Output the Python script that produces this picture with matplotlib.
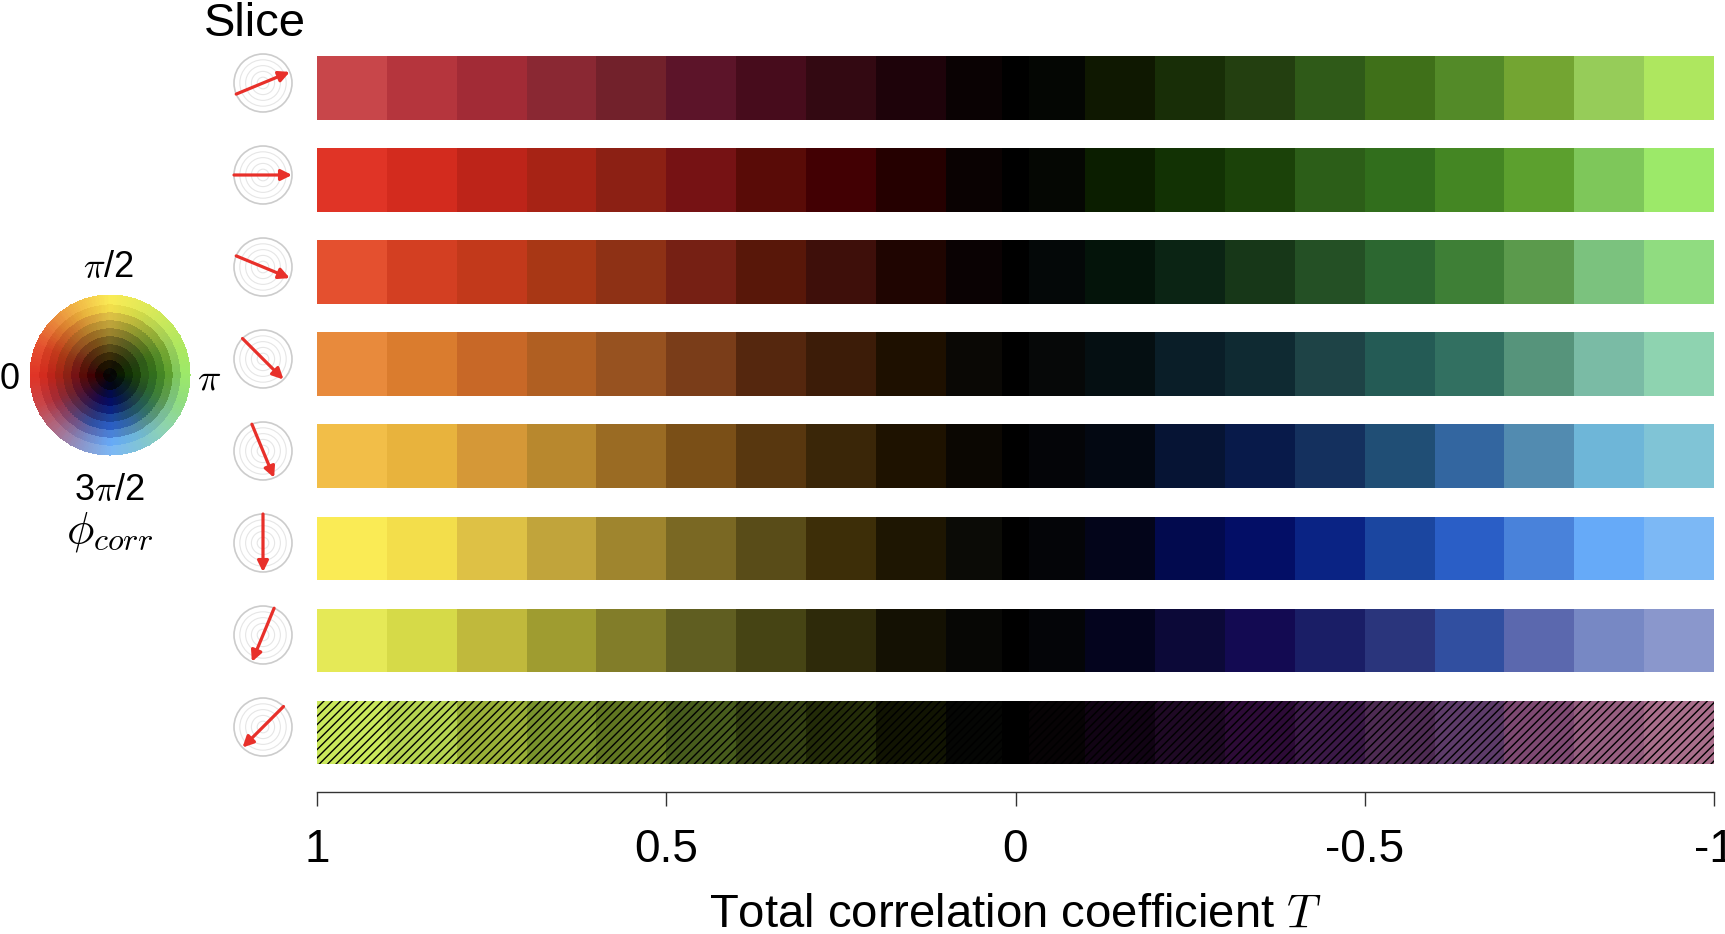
import numpy as np
import matplotlib
matplotlib.use('Agg')
import matplotlib.pyplot as plt
from matplotlib.colors import LinearSegmentedColormap
from matplotlib.patches import Circle

plt.rcParams['font.family'] = ['Liberation Sans', 'DejaVu Sans']
plt.rcParams['mathtext.fontset'] = 'cm'
plt.rcParams['hatch.linewidth'] = 1.0

W, H = 1725, 934

# direction of each slice (deg, counter-clockwise from +x)
slice_angles = [22.5, 0, -22.5, -45, -67.5, -90, -112.5, -135]
hatched = [False, False, False, False, False, False, False, True]

# segment edges of T, from 1 down to -1
t_edges = [1.0, 0.9, 0.8, 0.7, 0.6, 0.5, 0.4, 0.3, 0.2, 0.1, 0.0,
           -0.1, -0.2, -0.3, -0.4, -0.5, -0.6, -0.7, -0.8, -0.9, -1.0]
zero_band = [0.02, -0.02]

# colour of every segment (left = T 1..0, right = T 0..-1)
seg_colors = [
    ['#C8464A', '#B5353D', '#A22B36', '#8A2833', '#72212B', '#5C1429', '#470C1C', '#330912', '#1E030A', '#0A0203',
     '#040603', '#0F1801', '#182E07', '#233F10', '#2F5A18', '#3F7019', '#538A28', '#73A532', '#96CC59', '#AEE75F'],
    ['#E03426', '#D32B1E', '#BD2419', '#A72315', '#8C2014', '#761214', '#590B07', '#420003', '#250000', '#0A0202',
     '#050703', '#0B1E00', '#123204', '#1B4209', '#2C5E18', '#316E1C', '#448623', '#5CA02E', '#7EC75A', '#9CE969'],
    ['#E4502F', '#D33F22', '#C2391B', '#A83715', '#8E3115', '#762014', '#581709', '#3E0F0A', '#1F0501', '#0A0203',
     '#040808', '#04140A', '#0B2414', '#173718', '#245025', '#2C6730', '#3E7F36', '#5B9A4C', '#7BC27E', '#90DC80'],
    ['#E88A3C', '#DA7C2E', '#C86827', '#B05F22', '#975220', '#7A3D19', '#55270E', '#3C1C08', '#1E1000', '#0A0805',
     '#060808', '#050F12', '#0A1E28', '#0F2A32', '#1E4346', '#245B55', '#327061', '#56947B', '#7ABBA5', '#8ED3B0'],
    ['#F2BE48', '#E8B33D', '#D59837', '#B8882E', '#9A6B23', '#7A4F17', '#58370F', '#3A2608', '#1E1200', '#0B0702',
     '#040508', '#030812', '#061434', '#081A4A', '#14305E', '#204E75', '#3366A0', '#528BB0', '#6EB6D8', '#80C4D6'],
    ['#FAEB55', '#F3DE4B', '#DEC145', '#C1A43B', '#9F852E', '#7A6823', '#594C18', '#3D2E08', '#1E1602', '#0B0B06',
     '#040508', '#03051A', '#020A4E', '#030E66', '#0A2384', '#1B46A0', '#2A5EC6', '#4982DA', '#66AAF8', '#7CB8F5'],
    ['#E5E957', '#D6DA48', '#C0B93C', '#9F9C30', '#827D29', '#605E21', '#464414', '#2E2A0A', '#141103', '#070705',
     '#040508', '#04041E', '#0C0938', '#130A52', '#1A1E66', '#2A357C', '#314FA0', '#5B68AE', '#7788C4', '#8A97CC'],
    ['#CAE85B', '#B6D350', '#99AF37', '#79932C', '#607621', '#475C1C', '#344112', '#232C08', '#111402', '#050604',
     '#070305', '#110314', '#1F0925', '#2D0B37', '#3B1947', '#4E2B53', '#5D3B69', '#7E4972', '#965E80', '#A96E8B'],
]

tick_vals = [1, 0.5, 0, -0.5, -1]
tick_text = ['1', '0.5', '0', '-0.5', '-1']

fig = plt.figure(figsize=(W / 100, H / 100), dpi=100)

# ---- bars
ax = fig.add_axes([317 / W, 1 - 792 / H, 1397 / W, 750 / H])
bar_h = 0.685
for i, cols in enumerate(seg_colors):
    for k, c in enumerate(cols):
        left = t_edges[k]
        width = t_edges[k + 1] - t_edges[k]
        if hatched[i]:
            ax.barh(i, width, left=left, height=bar_h, color=c, edgecolor='black',
                    hatch='////', linewidth=0)
        else:
            ax.barh(i, width, left=left, height=bar_h, color=c, linewidth=0)
    ax.barh(i, zero_band[1] - zero_band[0], left=zero_band[0], height=bar_h,
            color='black', linewidth=0)

ax.set_xlim(1, -1)
ax.set_ylim(7.652, -0.5)
ax.set_yticks([])
ax.set_xticks(tick_vals, tick_text)
ax.tick_params(axis='x', direction='out', length=10, width=1, labelsize=33, pad=16,
               color='#333333')
for s in ['left', 'right', 'top']:
    ax.spines[s].set_visible(False)
ax.spines['bottom'].set_color('#333333')
ax.spines['bottom'].set_linewidth(1)
ax.set_xlabel('Total correlation coefficient $T$', fontsize=34, labelpad=15)

# ---- overlay in pixel coords: slice icons, colour wheel, labels
ov = fig.add_axes([0, 0, 1, 1])
ov.set_xlim(0, W)
ov.set_ylim(H, 0)
ov.axis('off')

ov.text(255, 36, 'Slice', fontsize=34, ha='center', va='baseline')

R = 29
for i, ang in enumerate(slice_angles):
    cx, cy = 263, 83 + 92 * i
    for f in (0.2, 0.4, 0.6, 0.8):
        ov.add_patch(Circle((cx, cy), R * f, fill=False, ec='#e6e6e6', lw=0.8))
    ov.add_patch(Circle((cx, cy), R, fill=False, ec='#cccccc', lw=1.2))
    a = np.deg2rad(ang)
    dx, dy = R * np.cos(a), -R * np.sin(a)
    ov.annotate('', xy=(cx + dx, cy + dy), xytext=(cx - dx, cy - dy),
                arrowprops=dict(arrowstyle='-|>', color='#e8302a', lw=2.3,
                                mutation_scale=16, shrinkA=0, shrinkB=0))

# colour wheel: phase 0 left, pi/2 top, pi right, 3pi/2 bottom
wcx, wcy, wr = 110, 375, 79.5
phis = [(-a) % 360 for a in slice_angles] + [(180 - a) % 360 for a in slice_angles]
order = np.argsort(phis)
th = np.linspace(0, 360, 361)
th_c = (th[:-1] + th[1:]) / 2
for m in range(1, 11):
    cols = [row[10 - m] for row in seg_colors] + [row[9 + m] for row in seg_colors]
    pos = [phis[j] / 360 for j in order] + [1.0]
    cl = [cols[j] for j in order] + [cols[order[0]]]
    cmap = LinearSegmentedColormap.from_list('lvl%d' % m, list(zip(pos, cl)))
    r = np.array([(m - 1) / 10, m / 10]) * wr
    alpha = np.deg2rad(180 - th)
    X = wcx + r[:, None] * np.cos(alpha)[None, :]
    Y = wcy - r[:, None] * np.sin(alpha)[None, :]
    ov.pcolormesh(X, Y, (th_c / 360)[None, :], cmap=cmap, vmin=0, vmax=1,
                  shading='flat', edgecolors='face', linewidth=0.3)

ov.text(108, 277, r'$\pi$/2', fontsize=26, ha='center', va='baseline')
ov.text(10, 389, '0', fontsize=26, ha='center', va='baseline')
ov.text(209, 389, r'$\pi$', fontsize=28, ha='center', va='baseline')
ov.text(110, 500, r'3$\pi$/2', fontsize=26, ha='center', va='baseline')
ov.text(110, 543, r'$\phi_{corr}$', fontsize=33, ha='center', va='baseline')

fig.savefig('out.png', dpi=100)
